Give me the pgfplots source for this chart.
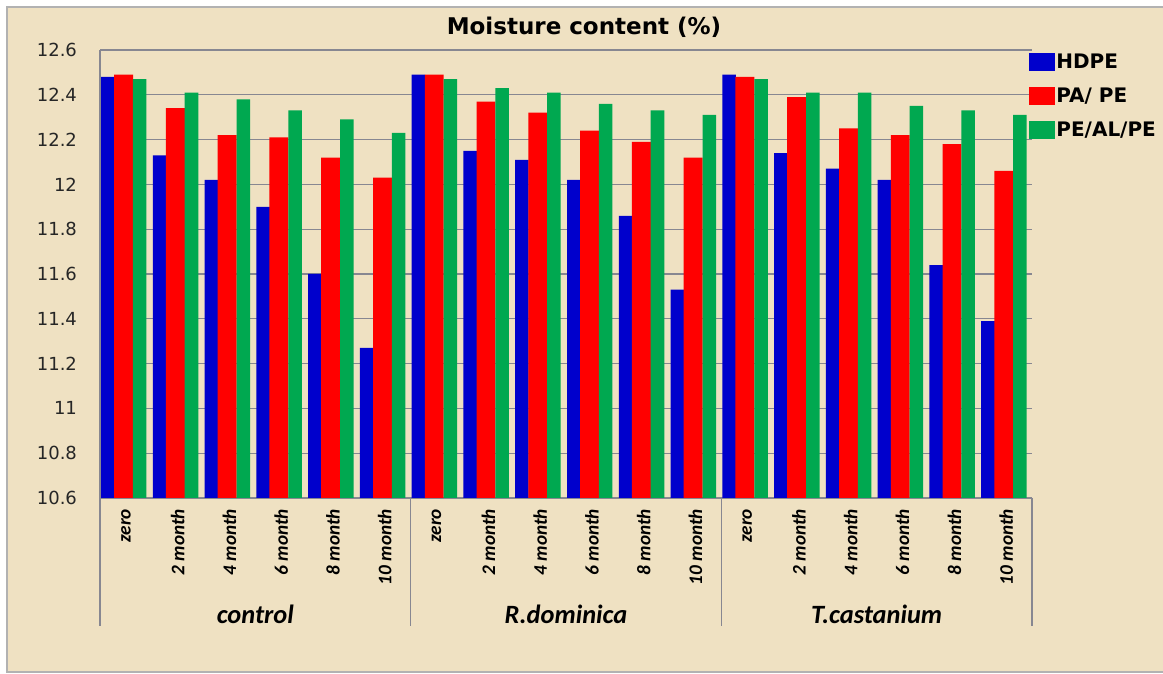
\documentclass[border=0pt]{standalone}
\usepackage{pgfplots}
\usepackage{pgfplotstable}
\pgfplotsset{compat=1.18}
\usepackage{fontspec}
\setmainfont{DejaVu Sans}
\newfontfamily\carlito{Carlito}
\definecolor{bg}{RGB}{239,225,194}
\definecolor{hdpe}{RGB}{0,0,204}
\definecolor{pape}{RGB}{255,0,0}
\definecolor{pealpe}{RGB}{0,168,80}
\definecolor{gridc}{RGB}{135,135,145}
\pgfplotstableread{
x HDPE PAPE PEALPE
0 12.48 12.49 12.47
1 12.13 12.34 12.41
2 12.02 12.22 12.38
3 11.90 12.21 12.33
4 11.60 12.12 12.29
5 11.27 12.03 12.23
6 12.49 12.49 12.47
7 12.15 12.37 12.43
8 12.11 12.32 12.41
9 12.02 12.24 12.36
10 11.86 12.19 12.33
11 11.53 12.12 12.31
12 12.49 12.48 12.47
13 12.14 12.39 12.41
14 12.07 12.25 12.41
15 12.02 12.22 12.35
16 11.64 12.18 12.33
17 11.39 12.06 12.31
}\data
\begin{document}
\begin{tikzpicture}[x=1pt,y=1pt]
\useasboundingbox (0,0) rectangle (581.5,337);
\fill[white] (0,0) rectangle (581.5,337);
\filldraw[fill=bg, draw=gray!60, line width=0.8pt] (3.5,1) rectangle (583,333.5);
\node[font=\bfseries\fontsize{11.5}{12}\selectfont] at (292,323.5) {Moisture content (\%)};
\begin{axis}[
  at={(50pt,88pt)}, anchor=south west,
  scale only axis, width=466pt, height=224pt,
  xmin=-0.5, xmax=17.5, ymin=10.6, ymax=12.6,
  ytick={10.6,10.8,11,11.2,11.4,11.6,11.8,12,12.2,12.4,12.6},
  yticklabels={10.6,10.8,11,11.2,11.4,11.6,11.8,12,12.2,12.4,12.6},
  xtick={0,...,17},
  xticklabels={zero,2 month,4 month,6 month,8 month,10 month,
               zero,2 month,4 month,6 month,8 month,10 month,
               zero,2 month,4 month,6 month,8 month,10 month},
  xticklabel style={rotate=90, anchor=east, xshift=1pt, font=\carlito\bfseries\itshape\fontsize{9.6}{10}\selectfont},
  xticklabel shift=3pt,
  yticklabel style={font=\fontsize{9}{9}\selectfont, text=black!85},
  yticklabel shift=8pt,
  axis x line*=bottom, axis y line*=left,
  axis line style={gridc, line width=0.6pt},
  ymajorgrids, grid style={gridc, line width=0.6pt},
  tick style={draw=none},
  clip mode=individual,
  legend style={at={(1,1)}, anchor=north west, xshift=-1.5pt, yshift=-1pt,
    draw=none, fill=none, font=\bfseries\fontsize{10}{10}\selectfont,
    row sep=7pt, inner sep=0pt,
    nodes={inner sep=0.5pt, text height=7.5pt, text depth=1.5pt}},
  legend cell align=left,
  legend image code/.code={\fill[#1] (0pt,-4.5pt) rectangle (13pt,4.5pt);},
]
\addplot[ybar, bar width=0.261, bar shift=-0.350, fill=hdpe, draw=none] table[x=x,y=HDPE]{\data};
\addplot[ybar, bar width=0.365, bar shift=-0.045, fill=pape, draw=none] table[x=x,y=PAPE]{\data};
\addplot[ybar, bar width=0.261, bar shift=0.267, fill=pealpe, draw=none] table[x=x,y=PEALPE]{\data};
\legend{HDPE,PA/ PE,PE/AL/PE}
\draw[gridc, line width=0.6pt] (axis cs:-0.5,10.6) -- ++(0pt,-64pt);
\draw[gridc, line width=0.6pt] (axis cs:5.5,10.6) -- ++(0pt,-64pt);
\draw[gridc, line width=0.6pt] (axis cs:11.5,10.6) -- ++(0pt,-64pt);
\draw[gridc, line width=0.6pt] (axis cs:17.5,10.6) -- ++(0pt,-64pt);
\node[font=\carlito\bfseries\itshape\fontsize{13.2}{13}\selectfont] at ([yshift=-58pt]axis cs:2.5,10.6) {control};
\node[font=\carlito\bfseries\itshape\fontsize{13.2}{13}\selectfont] at ([yshift=-58pt]axis cs:8.5,10.6) {R.dominica};
\node[font=\carlito\bfseries\itshape\fontsize{13.2}{13}\selectfont] at ([yshift=-58pt]axis cs:14.5,10.6) {T.castanium};
\end{axis}
\end{tikzpicture}
\end{document}
